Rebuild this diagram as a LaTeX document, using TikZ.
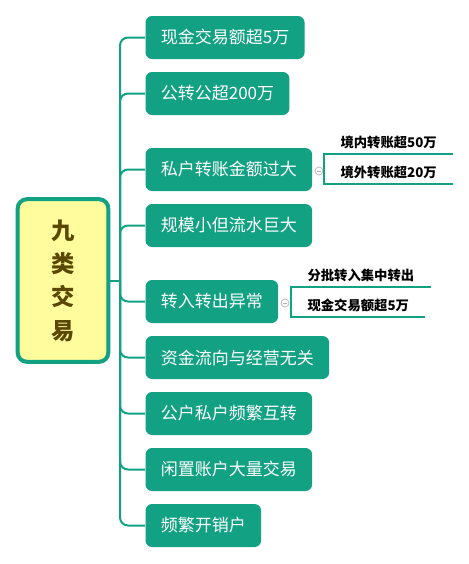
\documentclass[tikz,border=0pt]{standalone}
\usepackage{fontspec}
\setmainfont{Noto Sans CJK SC}
\usetikzlibrary{positioning}

\definecolor{topicgreen}{HTML}{12A182}
\definecolor{rootyellow}{HTML}{FFFC9E}
\definecolor{rootbrown}{HTML}{5A4700}

\tikzset{every picture/.style={line width=0.75pt}}
\tikzset{
  topic/.style={fill=topicgreen, rounded corners=5pt, text=white, anchor=west,
    inner xsep=11.5pt, minimum height=32.25pt, font=\fontsize{12.75}{15}\selectfont},
  branch/.style={draw=topicgreen, line width=1.5pt, rounded corners=6pt},
  subtopic/.style={anchor=south west, inner xsep=12pt, minimum height=16pt,
    font=\fontsize{10}{12}\selectfont\bfseries},
  fold/.style={circle, draw=gray!60, fill=white, inner sep=0pt, minimum size=6pt, line width=0.5pt}
}

\begin{document}
\begin{tikzpicture}[x=0.75pt,y=0.75pt,yscale=-1,xscale=1]
\useasboundingbox (0,0) rectangle (468,564);

%Root
\node (root) [draw=topicgreen, line width=3pt, fill=rootyellow, rounded corners=7pt,
  minimum width=68pt, minimum height=122pt, text=rootbrown, align=center,
  font=\fontsize{17.5}{25}\selectfont\bfseries] at (63,280.5) {九\\类\\交\\易};

%Topics
\node (t1) [topic] at (145,37.5) {现金交易额超5万};
\node (t2) [topic] at (145,93.5) {公转公超200万};
\node (t3) [topic] at (145,169.5) {私户转账金额过大};
\node (t4) [topic] at (145,225.5) {规模小但流水巨大};
\node (t5) [topic] at (145,301.5) {转入转出异常};
\node (t6) [topic] at (145,357.5) {资金流向与经营无关};
\node (t7) [topic] at (145,413.5) {公户私户频繁互转};
\node (t8) [topic] at (145,469.5) {闲置账户大量交易};
\node (t9) [topic] at (145,525.5) {频繁开销户};

%Trunk
\coordinate (trunk) at (120,280.5);
\draw [branch] (root.east) -- (trunk);
\foreach \t in {t1,t2,t3,t4,t5,t6,t7,t8,t9}
  \draw [branch] (trunk) |- (\t.west);

%Subtopics of t3
\node (f3) [fold] at (319,171) {};
\draw [gray!60, line width=0.5pt] ([xshift=-1.6pt]f3.center) -- ([xshift=1.6pt]f3.center);
\node (s1) [subtopic] at (324,154) {境内转账超50万};
\node (s2) [subtopic] at (324,184) {境外转账超20万};
\draw [branch, rounded corners=0pt] (s1.south east) -- (s1.south west) -- (s2.south west) -- (s2.south east);

%Subtopics of t5
\node (f5) [fold] at (285,303) {};
\draw [gray!60, line width=0.5pt] ([xshift=-1.6pt]f5.center) -- ([xshift=1.6pt]f5.center);
\node (s3) [subtopic] at (291,287) {分批转入集中转出};
\node (s4) [subtopic] at (291,317) {现金交易额超5万};
\draw [branch, rounded corners=0pt] (s3.south east) -- (s3.south west) -- (s4.south west) -- (s4.south east);

\end{tikzpicture}
\end{document}
